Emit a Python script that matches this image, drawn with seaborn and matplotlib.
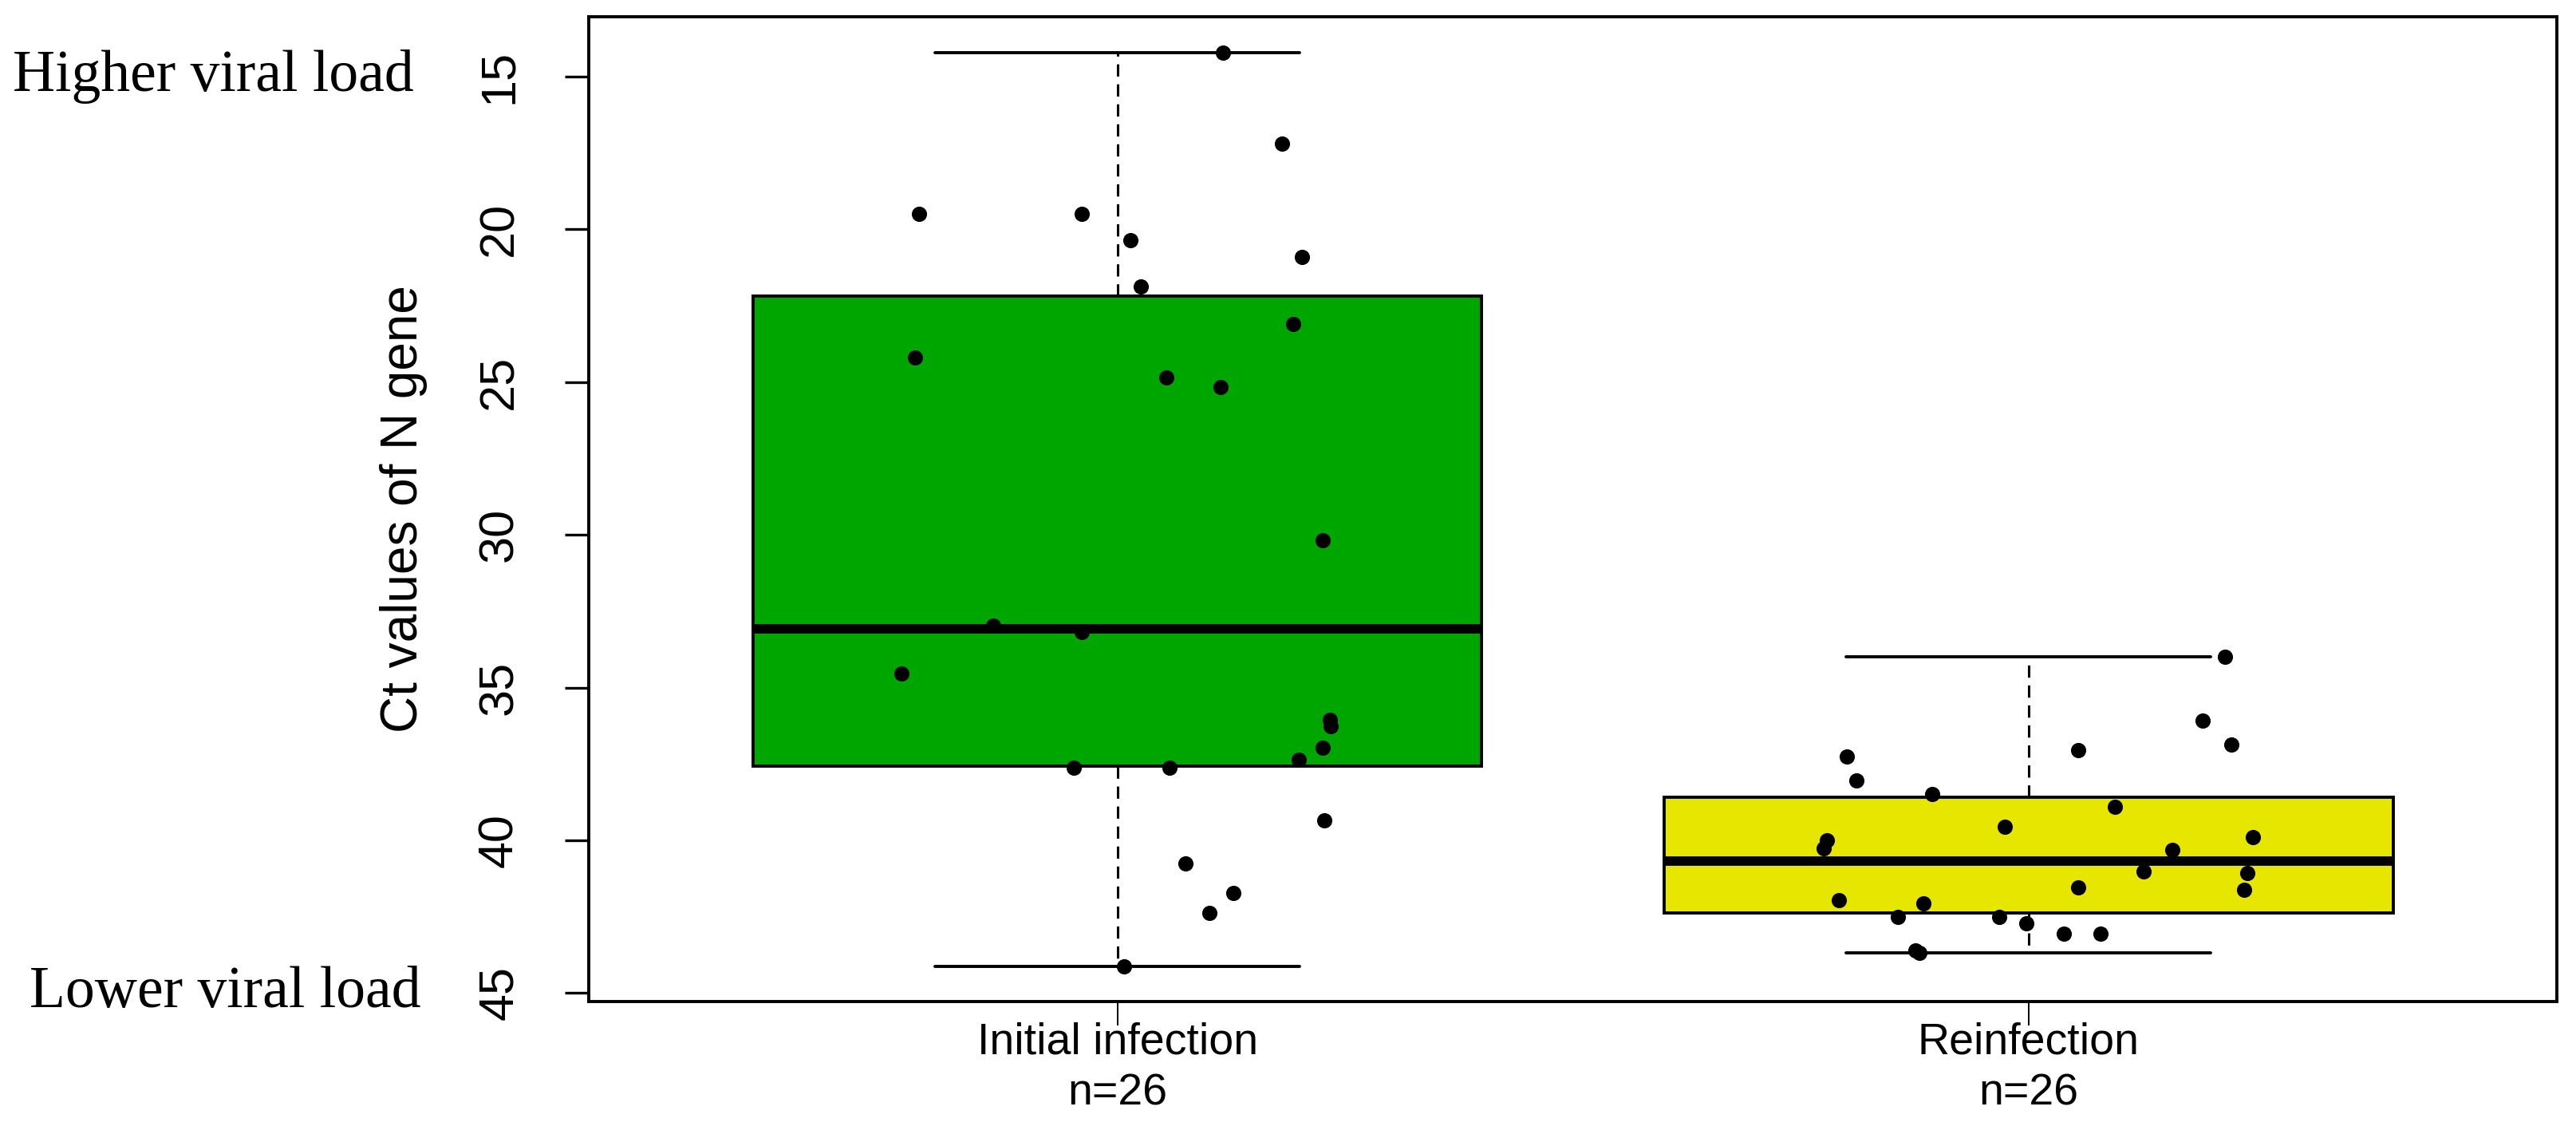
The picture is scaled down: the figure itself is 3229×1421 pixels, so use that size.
import numpy as np
import pandas as pd
import matplotlib
matplotlib.use("Agg")
import matplotlib.pyplot as plt
import seaborn as sns

# groups and box fill colours
groups = ["Initial infection", "Reinfection"]
box_colors = ["#00A600", "#E6E600"]

# Ct values, plus the horizontal jitter of every point
initial_ct = [14.22, 17.19, 19.49, 19.49, 20.36, 20.91, 21.87, 23.09, 24.20, 24.84,
              25.16, 30.17, 32.97, 33.19, 34.55, 36.06, 36.27, 36.98, 37.37, 37.63,
              37.63, 39.35, 40.76, 41.73, 42.38, 44.12]
initial_jit = [0.116, 0.181, -0.218, -0.039, 0.014, 0.203, 0.026, 0.193, -0.222, 0.054,
               0.113, 0.225, -0.136, -0.039, -0.237, 0.233, 0.234, 0.225, 0.199, -0.048,
               0.057, 0.227, 0.075, 0.127, 0.101, 0.007]
reinf_ct = [34.00, 36.08, 36.86, 37.05, 37.27, 38.03, 38.49, 38.91, 39.56, 39.91,
            40.00, 40.26, 40.32, 41.02, 41.06, 41.63, 41.54, 41.97, 42.06, 42.50,
            42.50, 42.72, 43.06, 43.06, 43.60, 43.69]
reinf_jit = [0.216, 0.191, 0.223, 0.055, -0.199, -0.189, -0.106, 0.095, -0.026, 0.246,
             -0.221, -0.225, 0.158, 0.126, 0.240, 0.237, 0.055, -0.208, -0.115, -0.143,
             -0.032, -0.002, 0.039, 0.079, -0.124, -0.120]
y_ticks = [15, 20, 25, 30, 35, 40, 45]

sns.set_theme(style="white")
plt.rcParams["font.family"] = ["Liberation Sans", "DejaVu Sans"]

df = pd.DataFrame({
    "group": [groups[0]] * len(initial_ct) + [groups[1]] * len(reinf_ct),
    "ct": initial_ct + reinf_ct,
})
# jittered x position of each point (category index + offset)
df["xpos"] = [0 + j for j in initial_jit] + [1 + j for j in reinf_jit]

fig = plt.figure(figsize=(32.29, 14.21), dpi=100)
ax = fig.add_axes([0.2286, 0.1168, 0.7640, 0.8684])

sns.boxplot(data=df, x="group", y="ct", hue="group", order=groups, hue_order=groups,
            palette=box_colors, saturation=1, width=0.8, linecolor="black",
            linewidth=2.8, fliersize=0, legend=False, ax=ax,
            medianprops={"linewidth": 8.5, "color": "black"},
            whiskerprops={"linestyle": (0, (5, 3.2)), "linewidth": 2.2},
            capprops={"linewidth": 2.8})

sns.scatterplot(x=df["xpos"], y=df["ct"], color="black", s=190, linewidth=0,
                ax=ax, zorder=4)

ax.set_xlim(-0.58, 1.58)
ax.set_ylim(45.28, 13.04)

ax.set_yticks(y_ticks)
ax.set_yticklabels([str(t) for t in y_ticks], rotation=90, va="center")
ax.set_xticks(range(len(groups)))
ax.set_xticklabels([f"{g}\nn={len(v)}" for g, v in zip(groups, [initial_ct, reinf_ct])],
                   linespacing=1.3)

ax.tick_params(axis="y", left=True, length=21.6, width=2.4, pad=38, labelsize=44,
               colors="black")
ax.tick_params(axis="x", bottom=True, length=21.6, width=1.4, pad=-3, labelsize=40,
               colors="black")

ax.set_xlabel("")
ax.set_ylabel("Ct values of N gene", fontsize=46, color="black")
ax.yaxis.set_label_coords(-0.082, 0.5)

for sp in ax.spines.values():
    sp.set_color("black")
    sp.set_linewidth(2.8)

# side notes in serif type
ax.annotate("Higher viral load", xy=(0.005, 15), xycoords=("figure fraction", "data"),
            ha="left", va="center", fontsize=53, family="Liberation Serif",
            color="black", annotation_clip=False)
ax.annotate("Lower viral load", xy=(0.0115, 45), xycoords=("figure fraction", "data"),
            ha="left", va="center", fontsize=53, family="Liberation Serif",
            color="black", annotation_clip=False)

fig.savefig("out.png", dpi=100)
